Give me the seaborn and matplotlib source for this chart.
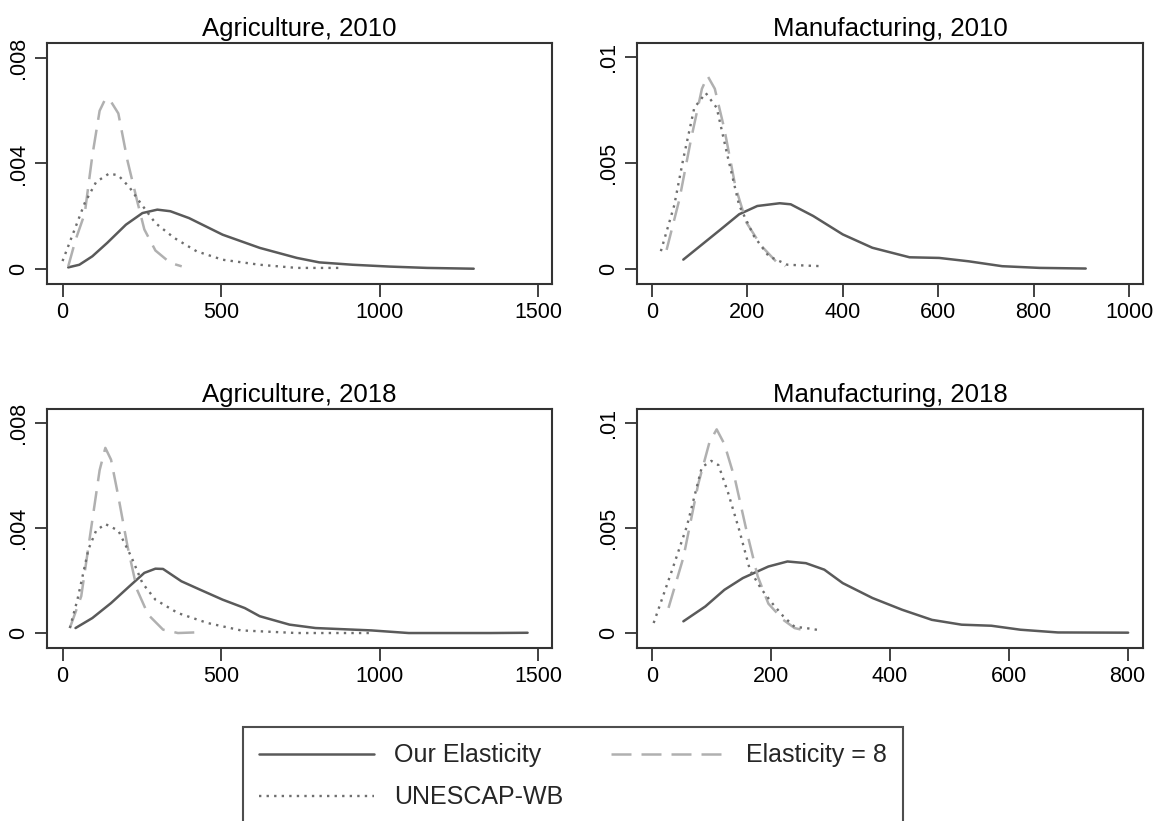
import numpy as np
import pandas as pd
import matplotlib
matplotlib.use("Agg")
import matplotlib.pyplot as plt
import seaborn as sns

# ---------------- data ----------------
# Agriculture, 2010
ag10_our_x = [18, 53, 94, 141, 200, 252, 299, 340, 399, 505, 622, 739, 810, 915, 1033, 1150, 1297]
ag10_our_y = [0.00006, 0.00016, 0.00048, 0.00099, 0.00168, 0.00212, 0.00225, 0.00219, 0.00193,
              0.00130, 0.00080, 0.00042, 0.00025, 0.00016, 0.00009, 0.00004, 0.00001]
ag10_e8_x = [18, 41, 70, 94, 117, 135, 150, 176, 205, 235, 258, 293, 340, 376]
ag10_e8_y = [0.0001, 0.0011, 0.0021, 0.0043, 0.0060, 0.00645, 0.0064, 0.0059, 0.0041, 0.0026,
             0.0015, 0.0007, 0.00023, 0.0001]
ag10_un_x = [0, 35, 70, 106, 147, 176, 211, 246, 293, 352, 423, 505, 622, 739, 880]
ag10_un_y = [0.0003, 0.0014, 0.0025, 0.0033, 0.00362, 0.00355, 0.0031, 0.0025, 0.00174, 0.00118,
             0.00067, 0.00035, 0.00016, 0.00004, 0.00004]

# Manufacturing, 2010
mf10_our_x = [66, 105, 144, 183, 221, 268, 291, 338, 400, 462, 540, 602, 664, 734, 812, 909]
mf10_our_y = [0.00044, 0.00115, 0.00186, 0.00258, 0.00297, 0.0031, 0.00305, 0.0025, 0.00163,
              0.0010, 0.00055, 0.00052, 0.00036, 0.00013, 0.00005, 0.00002]
mf10_e8_x = [31, 58, 82, 105, 117, 132, 152, 175, 198, 229, 260, 280]
mf10_e8_y = [0.0009, 0.0033, 0.0061, 0.0085, 0.0091, 0.0085, 0.0066, 0.0039, 0.0022, 0.0011,
             0.00036, 0.00013]
mf10_un_x = [19, 47, 66, 89, 113, 136, 159, 183, 214, 245, 284, 322, 357]
mf10_un_y = [0.00084, 0.0030, 0.0052, 0.0076, 0.0083, 0.0076, 0.0053, 0.0030, 0.00155, 0.0006,
             0.0002, 0.00016, 0.00013]

# Agriculture, 2018
ag18_our_x = [41, 94, 153, 211, 258, 293, 317, 375, 434, 505, 575, 622, 716, 798, 974, 1092,
              1209, 1350, 1467]
ag18_our_y = [0.00019, 0.00057, 0.00114, 0.00178, 0.00229, 0.00245, 0.00244, 0.00197, 0.00165,
              0.00127, 0.00095, 0.00064, 0.00032, 0.00019, 0.0001, 0.0, 0.0, 0.0, 0.00001]
ag18_e8_x = [23, 59, 94, 117, 135, 153, 176, 205, 235, 270, 317, 364, 434]
ag18_e8_y = [0.00019, 0.0014, 0.0043, 0.0062, 0.00705, 0.0066, 0.0052, 0.0033, 0.00165, 0.0007,
             0.00013, 0.0, 0.00003]
ag18_un_x = [23, 47, 82, 106, 135, 176, 217, 252, 293, 364, 458, 563, 739, 974]
ag18_un_y = [0.00019, 0.00127, 0.0032, 0.0039, 0.00415, 0.0039, 0.0029, 0.0019, 0.00127,
             0.00076, 0.00038, 0.0001, 0.0, 0.0]

# Manufacturing, 2018
mf18_our_x = [53, 90, 122, 153, 196, 228, 259, 290, 321, 371, 421, 471, 521, 571, 620, 683, 801]
mf18_our_y = [0.00056, 0.00127, 0.00206, 0.00262, 0.00317, 0.00341, 0.00333, 0.00302, 0.00238,
              0.00167, 0.00111, 0.00063, 0.0004, 0.00035, 0.00016, 0.00003, 0.00002]
mf18_e8_x = [28, 53, 78, 97, 109, 122, 140, 159, 178, 196, 221, 240, 252]
mf18_e8_y = [0.0012, 0.0036, 0.0071, 0.0091, 0.0097, 0.0090, 0.0073, 0.0049, 0.0027, 0.0014,
             0.00063, 0.00024, 0.00016]
mf18_un_x = [3, 34, 59, 84, 100, 112, 128, 147, 165, 184, 203, 221, 240, 259, 284]
mf18_un_y = [0.00048, 0.0030, 0.0051, 0.0079, 0.0082, 0.0080, 0.0067, 0.0049, 0.0030, 0.0021,
             0.0014, 0.0008, 0.0003, 0.00024, 0.00013]

titles = ["Agriculture, 2010", "Manufacturing, 2010", "Agriculture, 2018", "Manufacturing, 2018"]
series_names = ["Our Elasticity", "Elasticity = 8", "UNESCAP-WB"]

xticks_ag = [0, 500, 1000, 1500]
xticks_mf10 = [0, 200, 400, 600, 800, 1000]
xticks_mf18 = [0, 200, 400, 600, 800]
yticks_ag = [0, 0.004, 0.008]
yticklabels_ag = ["0", ".004", ".008"]
yticks_mf = [0, 0.005, 0.01]
yticklabels_mf = ["0", ".005", ".01"]

panels = [
    (titles[0], [(ag10_our_x, ag10_our_y), (ag10_e8_x, ag10_e8_y), (ag10_un_x, ag10_un_y)],
     xticks_ag, yticks_ag, yticklabels_ag, (-49, 1544), (-0.00057, 0.00857)),
    (titles[1], [(mf10_our_x, mf10_our_y), (mf10_e8_x, mf10_e8_y), (mf10_un_x, mf10_un_y)],
     xticks_mf10, yticks_mf, yticklabels_mf, (-31, 1029), (-0.00071, 0.01066)),
    (titles[2], [(ag18_our_x, ag18_our_y), (ag18_e8_x, ag18_e8_y), (ag18_un_x, ag18_un_y)],
     xticks_ag, yticks_ag, yticklabels_ag, (-49, 1544), (-0.00057, 0.00853)),
    (titles[3], [(mf18_our_x, mf18_our_y), (mf18_e8_x, mf18_e8_y), (mf18_un_x, mf18_un_y)],
     xticks_mf18, yticks_mf, yticklabels_mf, (-25, 826), (-0.00071, 0.01067)),
]

# ---------------- styling ----------------
sns.set_theme(style="white")
plt.rcParams["font.family"] = ["Liberation Sans", "DejaVu Sans"]

styles = {
    "Our Elasticity": dict(color="#5a5a5a", linestyle="-", linewidth=1.8),
    "Elasticity = 8": dict(color="#b0b0b0", linestyle=(0, (8, 4)), linewidth=1.8),
    "UNESCAP-WB": dict(color="#6e6e6e", linestyle=(0, (1, 2.2)), linewidth=1.7),
}

W, H = 1156, 821
fig = plt.figure(figsize=(W / 100, H / 100), dpi=100)

def fx(px):
    return px / W

def fy(py):
    return 1 - py / H

boxes = [
    (47, 552, 43, 284),
    (637, 1143, 43, 284),
    (47, 552, 409, 648),
    (637, 1143, 409, 648),
]

handles = {}
for (title, data, xt, yt, ytl, xl, yl), (l, r, t, b) in zip(panels, boxes):
    ax = fig.add_axes([fx(l), fy(b), fx(r) - fx(l), fy(t) - fy(b)])
    for name, (xs, ys) in zip(series_names, data):
        df = pd.DataFrame({"x": xs, "y": ys})
        sns.lineplot(data=df, x="x", y="y", ax=ax, sort=False, estimator=None,
                     **styles[name])
        handles[name] = ax.lines[-1]
    ax.set_xlim(*xl)
    ax.set_ylim(*yl)
    ax.set_xticks(xt)
    ax.set_xticklabels([str(v) for v in xt])
    ax.set_yticks(yt)
    ax.set_yticklabels(ytl, rotation=90, va="center")
    ax.set_xlabel("")
    ax.set_ylabel("")
    ax.set_title(title, fontsize=18.5, color="black", pad=5)
    ax.tick_params(axis="both", which="both", direction="out", length=9, width=1.3,
                   color="#333333", labelsize=15.5, labelcolor="black", pad=4,
                   bottom=True, left=True)
    for sp in ax.spines.values():
        sp.set_visible(True)
        sp.set_color("#333333")
        sp.set_linewidth(1.5)
    ax.grid(False)
    if ax.get_legend() is not None:
        ax.get_legend().remove()

order = ["Our Elasticity", "UNESCAP-WB", "Elasticity = 8"]
leg = fig.legend([handles[n] for n in order], order, ncol=2,
                 loc="upper left",
                 bbox_to_anchor=(fx(243), fy(727) - 0.2, fx(903) - fx(243), 0.2),
                 mode="expand", fontsize=18, frameon=True, fancybox=False,
                 edgecolor="#222222", handlelength=4.6, handletextpad=0.8,
                 borderpad=0.65, labelspacing=0.72, borderaxespad=0.0, columnspacing=2.5)
leg.get_frame().set_linewidth(1.5)

fig.savefig("out.png", dpi=100)
